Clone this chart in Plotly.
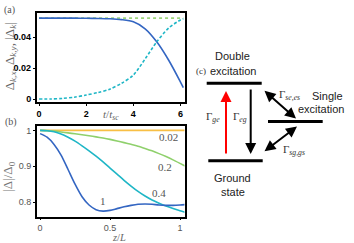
import plotly.graph_objects as go

W, H = 354, 243

# Panel (a) data
t_vals = [0, 0.5, 1, 1.5, 2, 2.5, 3, 3.5, 4, 4.5, 5, 5.5, 6, 6.12]
dk_x = [0.0524, 0.0524, 0.0524, 0.0524, 0.0523, 0.0522, 0.0520, 0.0514, 0.0500,
        0.0455, 0.0369, 0.0251, 0.0110, 0.0074]
dk_y = [0.0, 0.00005, 0.0004, 0.0012, 0.0026, 0.0042, 0.0064, 0.0102, 0.0155,
        0.0260, 0.0372, 0.0460, 0.0512, 0.0519]
dk_abs = [0.0524] * len(t_vals)
a_xticks = [0, 2, 4, 6]
a_yticks = [0, 0.02, 0.04]
a_yticklabels = ["0", "0.02", "0.04"]

# Panel (b) data
z_vals = [0, 0.05, 0.1, 0.15, 0.2, 0.25, 0.3, 0.35, 0.4, 0.45, 0.5, 0.55, 0.6,
          0.65, 0.7, 0.75, 0.8, 0.85, 0.9, 0.95, 1.0, 1.035]
r_002 = [1.0] * len(z_vals)
r_02 = [1.0, 0.9995, 0.998, 0.9957, 0.993, 0.9906, 0.988, 0.985, 0.982, 0.9787, 0.975,
        0.9707, 0.966, 0.9612, 0.956, 0.9497, 0.943, 0.9353, 0.927, 0.9178, 0.908, 0.901]
r_04 = [1.0, 0.999, 0.996, 0.990, 0.981, 0.970, 0.957, 0.943, 0.928, 0.912, 0.895,
        0.878, 0.861, 0.845, 0.830, 0.817, 0.806, 0.797, 0.789, 0.782, 0.776, 0.772]
r_1 = [0.991, 0.981, 0.961, 0.931, 0.891, 0.850, 0.815, 0.792, 0.779, 0.775, 0.777,
       0.782, 0.787, 0.791, 0.794, 0.795, 0.794, 0.792, 0.791, 0.791, 0.792, 0.793]
b_xticks = [0, 0.5, 1]
b_xticklabels = ["0", "0.5", "1"]
b_yticks = [0.8, 0.9, 1.0]
b_yticklabels = ["0.8", "0.9", "1"]
curve_labels = ["0.02", "0.2", "0.4", "1"]
label_pos_z = [0.915, 0.893, 0.85, 0.447]
label_pos_r = [0.981, 0.899, 0.826, 0.802]

BLUE = "#3466c2"
CYAN = "#1fb6c6"
LGREEN = "#9ed57c"
YELLOW = "#f8bf45"
GRAY = "#555555"

fig = go.Figure()

# Panel (a)
fig.add_trace(go.Scatter(x=t_vals, y=dk_abs, mode="lines", xaxis="x", yaxis="y",
                         line=dict(color=LGREEN, width=1.6, dash="dot")))
fig.add_trace(go.Scatter(x=t_vals, y=dk_x, mode="lines", line_shape="spline", xaxis="x", yaxis="y",
                         line=dict(color=BLUE, width=1.6, smoothing=0.8)))
fig.add_trace(go.Scatter(x=t_vals, y=dk_y, mode="lines", line_shape="spline", xaxis="x", yaxis="y",
                         line=dict(color=CYAN, width=1.6, dash="3px,2px", smoothing=0.8)))

# Panel (b)
for ys, c in [(r_002, YELLOW), (r_02, "#8fd06c"), (r_04, CYAN), (r_1, BLUE)]:
    fig.add_trace(go.Scatter(x=z_vals, y=ys, mode="lines", line_shape="spline",
                             xaxis="x2", yaxis="y2", line=dict(color=c, width=1.6, smoothing=0.8)))

axis_common = dict(showgrid=False, zeroline=False, showline=True, mirror=True,
                   linecolor="black", linewidth=1.5, ticks="outside", ticklen=2,
                   tickcolor="black", tickwidth=1)

xdom = [36.7 / W, 184.5 / W]
fig.update_layout(
    width=W, height=H, margin=dict(l=0, r=0, t=0, b=0),
    paper_bgcolor="white", plot_bgcolor="white", showlegend=False,
    xaxis=dict(domain=xdom, range=[-0.1, 6.17], tickvals=a_xticks, anchor="y",
               tickfont=dict(family="Liberation Sans", size=9, color="black", weight="bold"),
               **axis_common),
    yaxis=dict(domain=[1 - 102.7 / H, 1 - 11.7 / H], range=[-0.0022, 0.056],
               tickvals=a_yticks, ticktext=a_yticklabels, anchor="x",
               tickfont=dict(family="Liberation Sans", size=9, color="black", weight="bold"),
               **axis_common),
    xaxis2=dict(domain=xdom, range=[-0.024, 1.032], tickvals=b_xticks, ticktext=b_xticklabels,
                anchor="y2", tickfont=dict(family="Liberation Sans", size=9, color=GRAY),
                **axis_common),
    yaxis2=dict(domain=[1 - 218.3 / H, 1 - 126.7 / H], range=[0.7597, 1.0119],
                tickvals=b_yticks, ticktext=b_yticklabels, anchor="x2",
                tickfont=dict(family="Liberation Sans", size=9, color=GRAY),
                **axis_common),
)

ann = []
SERIF = "Liberation Serif"
SANS = "Liberation Sans"


def P(x, y):
    return x / W, 1 - y / H


def text(x, y, s, size=11, color="black", family=SERIF, angle=0, xanchor="center"):
    px, py = P(x, y)
    ann.append(dict(x=px, y=py, xref="paper", yref="paper", text=s, showarrow=False,
                    font=dict(family=family, size=size, color=color), textangle=angle,
                    xanchor=xanchor, yanchor="middle", borderpad=0))


# curve labels in panel (b)
for lab, zx, ry in zip(curve_labels, label_pos_z, label_pos_r):
    ann.append(dict(x=zx, y=ry, xref="x2", yref="y2", text=lab, showarrow=False,
                    font=dict(family=SERIF, size=11, color=GRAY)))

# panel labels and axis titles
text(9, 9, "(a)", size=10, color=GRAY)
text(11, 123, "(b)", size=10, color=GRAY)
text(10, 56, "Δ<sub><i>k,x</i></sub>, Δ<sub><i>k,y</i></sub>, |Δ<sub><i>k</i></sub>|",
     size=13, color="#666666", angle=-90)
text(9, 178, "|Δ|/Δ<sub>0</sub>", size=13, color="#777777", angle=-90)
text(111, 115, "<i>t</i>/<i>t</i><sub><i>sc</i></sub>", size=11, color="#666666")
text(119, 239, "<i>z</i>/<i>L</i>", size=10.5, color="#666666")

# Panel (c) diagram
text(232.5, 56, "Double", size=11, family=SANS, color="#222222")
text(233, 71, "excitation", size=11, family=SANS, color="#222222")
text(201, 71, "(c)", size=9, color="#333333")
text(311, 96, "Single", size=11, family=SANS, color="#222222", xanchor="left")
text(297, 109, "excitation", size=11, family=SANS, color="#222222", xanchor="left")
text(232.5, 179, "Ground", size=11, family=SANS, color="#222222")
text(233.5, 193, "state", size=11, family=SANS, color="#222222")
text(212.5, 117, "Γ<sub><i>ge</i></sub>", size=11, color="#333333")
text(240, 117, "Γ<sub><i>eg</i></sub>", size=11, color="#333333")
text(278, 95, "Γ<sub><i>se,es</i></sub>", size=11, color="#333333", xanchor="left")
text(282, 151, "Γ<sub><i>sg,gs</i></sub>", size=11, color="#333333", xanchor="left")

shapes = []
for x0, x1, y in [(206.7, 261.7, 83.3), (268, 322.7, 122), (208.3, 262.7, 161.7)]:
    a0, b0 = P(x0, y)
    a1, b1 = P(x1, y)
    shapes.append(dict(type="line", xref="paper", yref="paper", x0=a0, y0=b0, x1=a1, y1=b1,
                       line=dict(color="black", width=3)))


def arrow(xt, yt, xs, ys, color="black", both=False):
    px, py = P(xt, yt)
    ann.append(dict(x=px, y=py, xref="paper", yref="paper", ax=xs - xt, ay=ys - yt,
                    axref="pixel", ayref="pixel", showarrow=True, arrowhead=2,
                    arrowsize=1.1, arrowwidth=2, arrowcolor=color, text="",
                    startarrowhead=2, startarrowsize=1.1,
                    arrowside="end+start" if both else "end"))


arrow(226, 91, 226, 155, color="#ff0000")
arrow(250.7, 155, 250.7, 89)
arrow(296, 119, 263, 90, both=True)
arrow(297, 127, 263, 153, both=True)

fig.update_layout(annotations=ann, shapes=shapes)
fig.write_html("out.html", config={"displayModeBar": False},
               post_script="document.body.style.margin='0';document.body.style.overflow='hidden';")
